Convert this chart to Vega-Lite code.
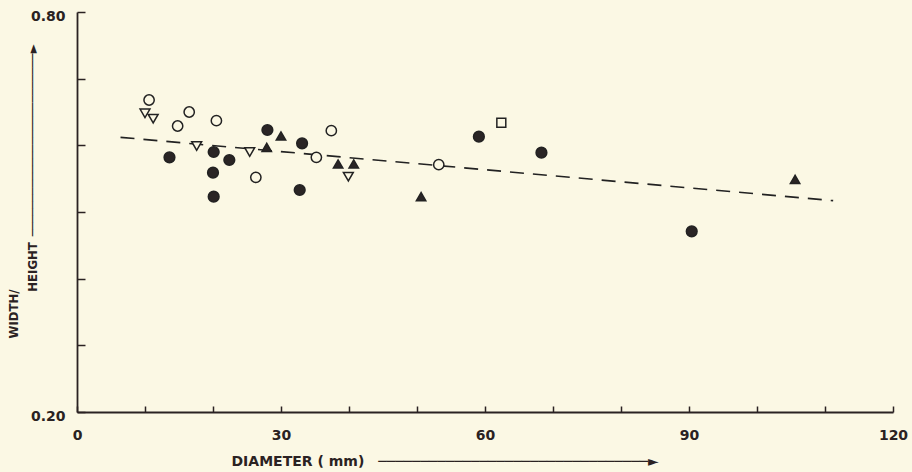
{
  "$schema": "https://vega.github.io/schema/vega-lite/v6.json",
  "width": 816,
  "height": 400,
  "autosize": "none",
  "padding": {"left": 77, "top": 12, "right": 19, "bottom": 60},
  "background": "#fbf8e4",
  "config": {"view": {"stroke": null}, "font": "DejaVu Sans"},
  "datasets": {
    "pts": [
      {"d": 10.6, "r": 0.668, "s": "open circle"},
      {"d": 14.8, "r": 0.629, "s": "open circle"},
      {"d": 16.5, "r": 0.650, "s": "open circle"},
      {"d": 20.5, "r": 0.637, "s": "open circle"},
      {"d": 26.3, "r": 0.552, "s": "open circle"},
      {"d": 37.4, "r": 0.622, "s": "open circle"},
      {"d": 35.2, "r": 0.582, "s": "open circle"},
      {"d": 53.2, "r": 0.571, "s": "open circle"},
      {"d": 10.0, "r": 0.648, "s": "open triangle"},
      {"d": 11.2, "r": 0.640, "s": "open triangle"},
      {"d": 17.6, "r": 0.599, "s": "open triangle"},
      {"d": 25.4, "r": 0.590, "s": "open triangle"},
      {"d": 39.9, "r": 0.553, "s": "open triangle"},
      {"d": 28.0, "r": 0.623, "s": "filled circle"},
      {"d": 13.6, "r": 0.582, "s": "filled circle"},
      {"d": 20.1, "r": 0.590, "s": "filled circle"},
      {"d": 22.4, "r": 0.578, "s": "filled circle"},
      {"d": 20.0, "r": 0.559, "s": "filled circle"},
      {"d": 20.1, "r": 0.523, "s": "filled circle"},
      {"d": 33.1, "r": 0.603, "s": "filled circle"},
      {"d": 32.75, "r": 0.533, "s": "filled circle"},
      {"d": 59.1, "r": 0.613, "s": "filled circle"},
      {"d": 68.3, "r": 0.589, "s": "filled circle"},
      {"d": 90.4, "r": 0.471, "s": "filled circle"},
      {"d": 30.0, "r": 0.614, "s": "filled triangle"},
      {"d": 27.9, "r": 0.597, "s": "filled triangle"},
      {"d": 38.4, "r": 0.572, "s": "filled triangle"},
      {"d": 40.7, "r": 0.572, "s": "filled triangle"},
      {"d": 50.6, "r": 0.523, "s": "filled triangle"},
      {"d": 105.6, "r": 0.549, "s": "filled triangle"},
      {"d": 62.4, "r": 0.634, "s": "open square"}
    ],
    "fit": [
      {"d": 6.4, "r": 0.612},
      {"d": 111.2, "r": 0.517}
    ]
  },
  "encoding": {
    "x": {
      "field": "d",
      "type": "quantitative",
      "scale": {"domain": [0, 120], "nice": false, "zero": false},
      "axis": {
        "values": [0, 10, 20, 30, 40, 50, 60, 70, 80, 90, 100, 110, 120],
        "labelExpr": "datum.value % 30 == 0 ? datum.label : ''",
        "grid": false,
        "tickSize": -6,
        "tickWidth": 1.5,
        "tickColor": "#2a2222",
        "domainColor": "#2a2222",
        "domainWidth": 1.8,
        "labelFlush": false,
        "labelPadding": 22,
        "labelBaseline": "top",
        "labelFont": "DejaVu Sans",
        "labelFontSize": 14,
        "labelFontWeight": "bold",
        "labelColor": "#2a2222",
        "title": "DIAMETER ( mm)\u2003────────────────────────────────►",
        "titleFont": "DejaVu Sans",
        "titleFontSize": 14,
        "titleFontWeight": "bold",
        "titleColor": "#2a2222",
        "titleAlign": "left",
        "titleBaseline": "middle",
        "titleAnchor": "start",
        "titleX": 154,
        "titleY": 49
      }
    },
    "y": {
      "field": "r",
      "type": "quantitative",
      "scale": {"domain": [0.2, 0.8], "nice": false, "zero": false},
      "axis": {
        "values": [0.2, 0.3, 0.4, 0.5, 0.6, 0.7, 0.8],
        "labelExpr": "datum.value == 0.2 || datum.value == 0.8 ? format(datum.value, '.2f') : ''",
        "grid": false,
        "tickSize": -8,
        "tickWidth": 1.5,
        "tickColor": "#2a2222",
        "domainColor": "#2a2222",
        "domainWidth": 1.8,
        "labelFlush": false,
        "labelPadding": 20,
        "labelOffset": 4,
        "labelFont": "DejaVu Sans",
        "labelFontSize": 14,
        "labelFontWeight": "bold",
        "labelColor": "#2a2222",
        "title": ["WIDTH/", "\u200b\u2003\u2003\u2003\u2003HEIGHT\u2002──────────────────────────►"],
        "titleFont": "DejaVu Sans Condensed, DejaVu Sans",
        "titleFontSize": 13,
        "titleFontWeight": "bold",
        "titleColor": "#2a2222",
        "titleLineHeight": 19,
        "titleAngle": -90,
        "titleAlign": "left",
        "titleBaseline": "middle",
        "titleAnchor": "start",
        "titleX": -64,
        "titleY": 326
      }
    }
  },
  "layer": [
    {
      "data": {"name": "fit"},
      "mark": {"type": "line", "strokeDash": [14, 9], "color": "#222222", "strokeWidth": 1.6}
    },
    {
      "data": {"name": "pts"},
      "mark": {"type": "point", "strokeWidth": 1.5, "opacity": 1, "stroke": "#222222"},
      "encoding": {
        "shape": {
          "field": "s",
          "type": "nominal",
          "scale": {
            "domain": ["filled circle", "open circle", "open triangle", "filled triangle", "open square"],
            "range": ["circle", "circle", "triangle-down", "triangle-up", "square"]
          },
          "legend": null
        },
        "fill": {
          "field": "s",
          "type": "nominal",
          "scale": {
            "domain": ["filled circle", "open circle", "open triangle", "filled triangle", "open square"],
            "range": ["#2a2525", "#fbf8e4", "#fbf8e4", "#2a2525", "#fbf8e4"]
          },
          "legend": null
        },
        "size": {
          "field": "s",
          "type": "nominal",
          "scale": {
            "domain": ["filled circle", "open circle", "open triangle", "filled triangle", "open square"],
            "range": [115, 80, 85, 100, 60]
          },
          "legend": null
        }
      }
    }
  ]
}
